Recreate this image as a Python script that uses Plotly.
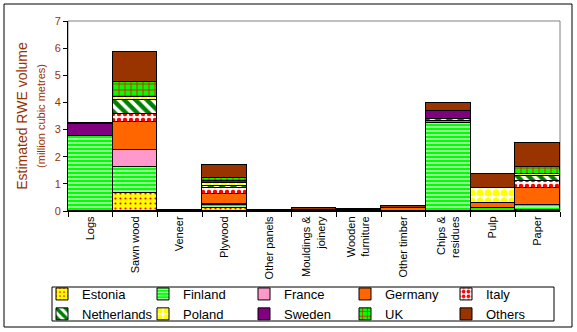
import plotly.graph_objects as go

# Product categories along the x axis
categories = ["Logs", "Sawn wood", "Veneer", "Plywood", "Other panels",
              "Mouldings &<br>joinery", "Wooden<br>furniture", "Other timber",
              "Chips &<br>residues", "Pulp", "Paper"]

# Estimated RWE volume by origin country (million cubic metres)
estonia     = [0.00, 0.65, 0.00, 0.10, 0.00, 0.00, 0.00, 0.00, 0.00, 0.00, 0.03]
finland     = [2.76, 0.96, 0.00, 0.12, 0.00, 0.00, 0.00, 0.00, 3.25, 0.10, 0.18]
france      = [0.00, 0.64, 0.00, 0.02, 0.00, 0.00, 0.00, 0.00, 0.00, 0.00, 0.00]
germany     = [0.00, 1.04, 0.00, 0.38, 0.00, 0.03, 0.00, 0.10, 0.06, 0.20, 0.65]
italy       = [0.00, 0.28, 0.00, 0.22, 0.00, 0.00, 0.02, 0.00, 0.00, 0.00, 0.25]
netherlands = [0.00, 0.52, 0.00, 0.08, 0.00, 0.00, 0.00, 0.00, 0.09, 0.00, 0.17]
poland      = [0.00, 0.12, 0.02, 0.10, 0.02, 0.00, 0.00, 0.00, 0.00, 0.55, 0.07]
sweden      = [0.43, 0.00, 0.00, 0.08, 0.00, 0.02, 0.00, 0.00, 0.27, 0.00, 0.00]
uk          = [0.00, 0.56, 0.00, 0.10, 0.00, 0.00, 0.00, 0.00, 0.00, 0.00, 0.27]
others      = [0.05, 1.07, 0.01, 0.50, 0.01, 0.07, 0.04, 0.08, 0.32, 0.50, 0.90]

y_ticks = [0, 1, 2, 3, 4, 5, 6, 7]

series = [
    ("Estonia", estonia, dict(bgcolor="#FFFF00", fgcolor="#FF0000", shape=".", size=5, solidity=0.15)),
    ("Finland", finland, dict(bgcolor="#00FF00", fgcolor="#FFFFFF", shape="-", size=4, solidity=0.3)),
    ("France", france, None, "#FF99CC"),
    ("Germany", germany, None, "#FF6600"),
    ("Italy", italy, dict(bgcolor="#FFFFFF", fgcolor="#FF0000", shape=".", size=6, solidity=0.45)),
    ("Netherlands", netherlands, dict(bgcolor="#FFFFFF", fgcolor="#008000", shape="\\", size=8, solidity=0.55)),
    ("Poland", poland, dict(bgcolor="#FFFFFF", fgcolor="#FFFF00", shape=".", size=8, solidity=0.6)),
    ("Sweden", sweden, None, "#800080"),
    ("UK", uk, dict(bgcolor="#00FF00", fgcolor="#FF0000", shape="+", size=6, solidity=0.25)),
    ("Others", others, None, "#993300"),
]

fig = go.Figure()
for entry in series:
    name, values, pattern = entry[0], entry[1], entry[2]
    marker = dict(line=dict(color="#000000", width=1))
    if pattern is None:
        marker["color"] = entry[3]
    else:
        marker["color"] = pattern["bgcolor"]
        marker["pattern"] = dict(shape=pattern["shape"], fgcolor=pattern["fgcolor"],
                                 bgcolor=pattern["bgcolor"], size=pattern["size"],
                                 solidity=pattern["solidity"], fillmode="replace")
    fig.add_trace(go.Bar(x=categories, y=values, name=name, marker=marker))

W, H = 577, 332
L, R, T, B = 68, 17, 21, 121
pw, ph = W - L - R, H - T - B

def px_x(p):
    return (p - L) / pw

def px_y(p):
    return (H - B - p) / ph

brown = "#993300"

fig.update_layout(
    width=W, height=H,
    margin=dict(l=L, r=R, t=T, b=B, autoexpand=False),
    barmode="stack", bargap=0,
    paper_bgcolor="white", plot_bgcolor="white",
    font=dict(family="Arial, 'Liberation Sans', sans-serif", size=11, color="#000000"),
    showlegend=True,
    legend=dict(orientation="h", x=px_x(42), y=px_y(279), xanchor="left", yanchor="top",
                borderwidth=0, bgcolor="rgba(0,0,0,0)", traceorder="normal",
                font=dict(size=13), entrywidth=56, itemwidth=30,
                tracegroupgap=0),
    xaxis=dict(showline=True, linecolor="#000000", linewidth=1, automargin=False,
               ticks="outside", ticklen=5, tickcolor="#000000", tickson="boundaries",
               tickangle=-90, tickfont=dict(size=11, color="#000000"),
               showgrid=False, zeroline=False),
    yaxis=dict(range=[0, 7], tickvals=y_ticks, showline=True, linecolor="#000000", linewidth=1,
               automargin=False,
               ticks="outside", ticklen=4, tickcolor="#000000",
               tickfont=dict(size=11, color=brown), showgrid=False, zeroline=False,
               title=dict(text="Estimated RWE volume<br><span style='font-size:11px'>(million cubic metres)</span>",
                          font=dict(size=14, color=brown), standoff=5)),
    shapes=[
        # grey plot-area frame (top and right edges show)
        dict(type="rect", xref="paper", yref="paper", x0=0, x1=1, y0=0, y1=1,
             line=dict(color="#808080", width=1), layer="below"),
        # outer chart border
        dict(type="rect", xref="paper", yref="paper",
             x0=px_x(4), x1=px_x(572), y0=px_y(327), y1=px_y(4),
             line=dict(color="#000000", width=1), layer="below"),
        # legend frame
        dict(type="rect", xref="paper", yref="paper",
             x0=px_x(52), x1=px_x(554), y0=px_y(321), y1=px_y(287),
             line=dict(color="#000000", width=1), layer="below"),
    ],
)

fig.write_html("out.html")
